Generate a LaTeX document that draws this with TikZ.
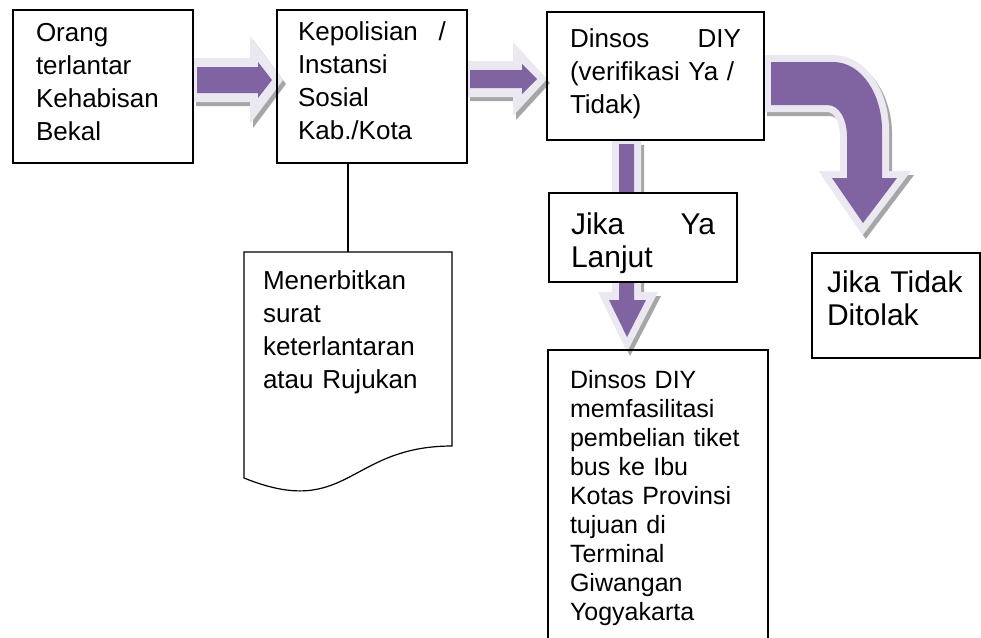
\documentclass[tikz,border=0pt]{standalone}
\usepackage{fontspec}
\setmainfont{Liberation Sans}
\usepackage{xcolor}
\usetikzlibrary{calc, backgrounds}

\definecolor{arrowfill}{HTML}{8064A2}
\definecolor{arrowrim}{HTML}{ECE8F2}
\definecolor{arrowshade}{HTML}{A6A6A6}

\tikzset{
  stepbox/.style={draw, line width=1.2pt, anchor=north west, outer sep=0pt,
    inner ysep=0pt, align=left, font=\fontsize{26}{33}\selectfont},
  bigtext/.style={font=\fontsize{30}{33}\selectfont},
  dropshade/.style={preaction={fill=arrowshade, transform canvas={shift={(3,4)}}}},
  arrowrimfill/.style={fill=arrowrim, dropshade},
  arrowbody/.style={fill=arrowfill},
  bentrim/.style={
    preaction={draw=arrowshade, fill=arrowshade, line width=14pt, line join=miter,
      transform canvas={shift={(3,4)}}},
    preaction={draw=arrowrim, line width=14pt, line join=miter}},
}

\begin{document}
\begin{tikzpicture}[x=1pt, y=-1pt]
  \useasboundingbox (0,0) rectangle (981,637);
  \clip (0,0) rectangle (981,637);

  \node[stepbox, text width=134pt, inner xsep=23pt, text height=31.6pt, text depth=121.4pt]
    (orang) at (13,10) {Orang\\terlantar\\Kehabisan\\Bekal};
  \node[stepbox, text width=148pt, inner xsep=21pt, text height=30.6pt, text depth=122.4pt]
    (polisi) at (277,10) {Kepolisian\hspace{0pt plus 1filll}/\\Instansi\\Sosial\\Kab./Kota};
  \node[stepbox, text width=171pt, inner xsep=23pt, text height=35pt, text depth=93pt]
    (dinsos) at (547,12) {Dinsos\hspace{0pt plus 1filll}DIY\\(verifikasi Ya /\\Tidak)};
  \node[stepbox, bigtext, fill=white, text width=144pt, inner xsep=22pt, text height=41pt, text depth=48pt]
    (lanjut) at (549,193) {Jika\hspace{0pt plus 1filll}Ya\\Lanjut};
  \node[stepbox, bigtext, text width=138pt, inner xsep=15pt, text height=39pt, text depth=66pt]
    (tolak) at (812,253) {Jika Tidak\\Ditolak};
  \node[stepbox, font=\fontsize{25}{29}\selectfont, text width=176pt, inner xsep=22pt, text height=38pt, text depth=257pt]
    (tiket) at (548,350) {Dinsos DIY\\memfasilitasi\\pembelian tiket\\bus ke Ibu\\Kotas Provinsi\\tujuan di\\Terminal\\Giwangan\\Yogyakarta};
  \node[stepbox, draw=none, text width=170pt, inner xsep=19pt, text height=37pt, text depth=205pt]
    (surat) at (244,252) {Menerbitkan\\surat\\keterlantaran\\atau Rujukan};

  \draw[line width=1.2pt] (surat.north west) -- (surat.north east)
    -- ($(surat.north east)+(0,194)$)
    .. controls ($(surat.north)+(0,194)$) and ($(surat.north)+(0,268)$) .. ($(surat.north west)+(0,226)$)
    -- cycle;
  \draw[line width=1.2pt] (polisi.south -| surat.north) -- (surat.north);

  \begin{scope}[on background layer]
    \fill[arrowrimfill] (193,58) -- (250,58) -- (250,36) -- (283,80) -- (250,124) -- (250,102) -- (193,102) -- cycle;
    \fill[arrowbody] (197,67) -- (258,67) -- (258,62) -- (272,80) -- (258,98) -- (258,93) -- (197,93) -- cycle;

    \fill[arrowrimfill] (467,61) -- (513,61) -- (513,42) -- (547,79) -- (513,116) -- (513,97) -- (467,97) -- cycle;
    \fill[arrowbody] (470,70) -- (522,70) -- (522,64) -- (537,79) -- (522,94) -- (522,88) -- (470,88) -- cycle;

    \fill[arrowrimfill] (612,141) -- (641,141) -- (641,292) -- (658,292) -- (627,352) -- (598,292) -- (612,292) -- cycle;
    \fill[arrowbody] (619,144) -- (634,144) -- (634,300) -- (646,300) -- (627,337) -- (609,300) -- (619,300) -- cycle;

    \fill[arrowbody, bentrim] (771,62) -- (833,62) .. controls (862,62) and (882,95) .. (882,130)
      -- (882,178) -- (897,178) -- (863,223) -- (832,178) -- (847,178) -- (847,137)
      .. controls (847,120) and (840,105) .. (827,105) -- (771,105) -- cycle;
  \end{scope}
\end{tikzpicture}
\end{document}
